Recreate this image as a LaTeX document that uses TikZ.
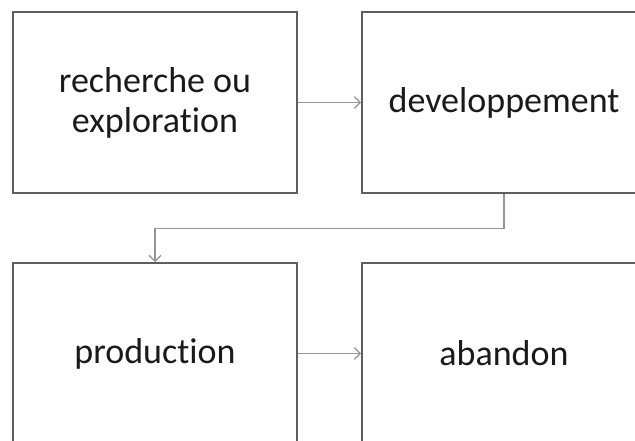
\documentclass[tikz,border=0pt]{standalone}
\usepackage{fontspec}
\setmainfont{Carlito}[Ligatures={NoCommon}]
\usetikzlibrary{arrows.meta}
\definecolor{boxline}{HTML}{5E5E5E}
\definecolor{arrowline}{HTML}{959595}
\definecolor{label}{HTML}{1A1A1A}
\tikzset{
  stage/.style={draw=boxline, line width=1.7pt, fill=white,
    minimum width=284pt, minimum height=181pt, inner sep=0pt,
    align=center, text=label, font=\fontsize{36}{40}\selectfont},
  flow/.style={draw=arrowline, line width=1.2pt,
    -{Straight Barb[length=6pt,width=12pt,line width=1.2pt]}}
}
\begin{document}
\begin{tikzpicture}[x=1pt,y=1pt]
  \useasboundingbox (0,0) rectangle (635,441);
  \clip (0,0) rectangle (635,441);
  \fill[white] (0,0) rectangle (635,441);
  \node[stage] (rech) at (155,338.5) {recherche ou\\exploration};
  \node[stage] (dev)  at (504,338.5) {developpement};
  \node[stage] (prod) at (155,87.5)  {production};
  \node[stage] (aban) at (504,87.5)  {abandon};
  \draw[flow] (rech.east) -- (dev.west);
  \draw[flow] (dev.south) -- ++(0,-35) -| (prod.north);
  \draw[flow] (prod.east) -- (aban.west);
\end{tikzpicture}
\end{document}
